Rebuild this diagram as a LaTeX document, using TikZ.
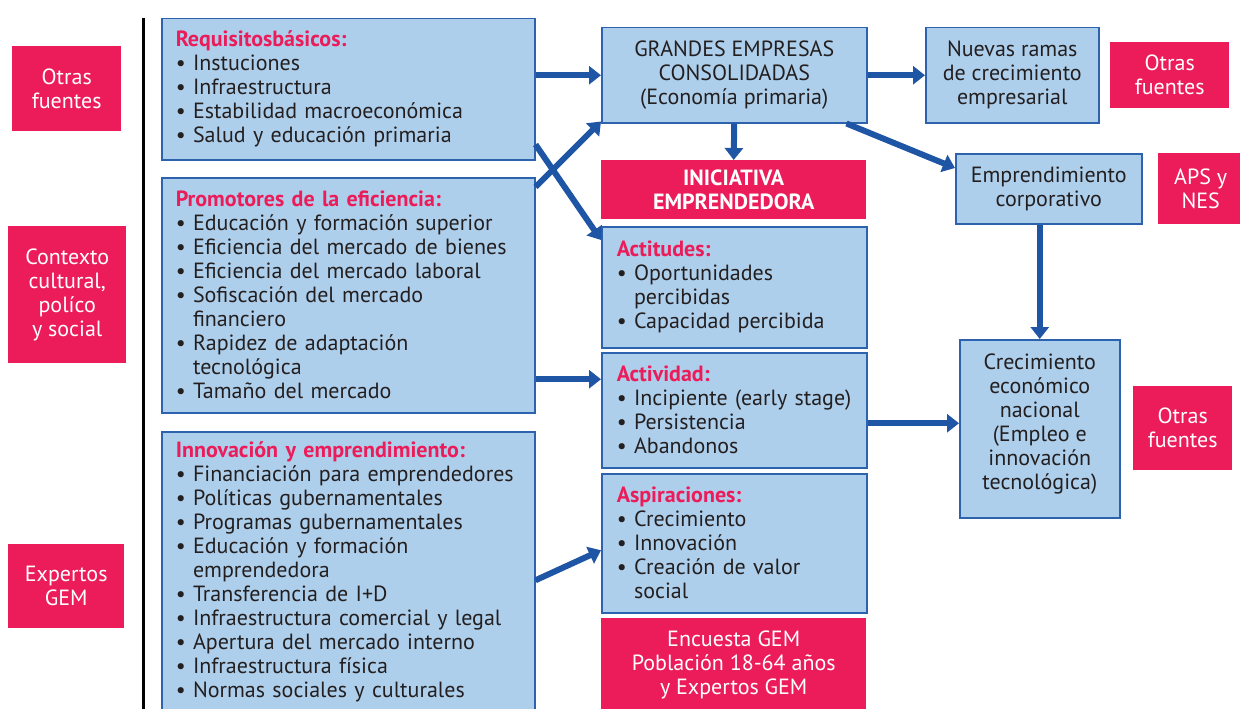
\documentclass[tikz,border=0pt]{standalone}
\usepackage{fontspec}
\setmainfont{PT Sans}
\usetikzlibrary{arrows.meta, calc}
\definecolor{RojoGEM}{HTML}{EC1C5A}
\definecolor{AzulCaja}{HTML}{AECFEB}
\definecolor{AzulBorde}{HTML}{2C62AE}
\definecolor{AzulFlecha}{HTML}{1F55A5}
\definecolor{TextoCaja}{HTML}{231F20}
\newcommand{\encabezado}[1]{{\bfseries\color{RojoGEM}#1}}
\newcommand{\sangria}{\phantom{•\ }}
\tikzset{
    caja/.style={
        draw=AzulBorde, line width=1.5pt, fill=AzulCaja, text=TextoCaja,
        anchor=north west, inner sep=0pt,
        font=\fontsize{22}{24}\selectfont
    },
    caja lista/.style={caja, align=left},
    caja centro/.style={caja, align=center},
    fuente/.style={
        fill=RojoGEM, text=white, anchor=north west, align=center,
        inner sep=0pt, font=\fontsize{22}{24}\selectfont
    },
    flecha/.style={
        draw=AzulFlecha, line width=6pt,
        -{Triangle[length=12pt, width=18pt]}
    }
}

\begin{document}
\begin{tikzpicture}[x=1pt, y=-1pt]

\clip (0,0) rectangle (1240,709);

% Linea negra que separa las fuentes
\coordinate (L1) at (143,18);
\coordinate (L2) at (143,712);
\draw[line width=3pt] (L1) -- (L2);

% Fuentes de la izquierda
\node[fuente, minimum width=109, minimum height=85] (otrasA) at (12,46) {Otras\\fuentes};
\node[fuente, minimum width=118, minimum height=137] (contexto) at (8,226) {Contexto\\cultural,\\polí{}co\\y social};
\node[fuente, minimum width=116, minimum height=84] (expertos) at (8,544) {Expertos\\GEM};

% Cajas de la primera columna
\node[caja lista, minimum width=373, minimum height=141, text width=345] (req) at (161,18) {%
\encabezado{Requisitosbásicos:}\\
• Instuciones\\
• Infraestructura\\
• Estabilidad macroeconómica\\
• Salud y educación primaria};

\node[caja lista, minimum width=373, minimum height=235, text width=345] (prom) at (161,177) {%
\encabezado{Promotores de la eficiencia:}\\
• Educación y formación superior\\
• Eficiencia del mercado de bienes\\
• Eficiencia del mercado laboral\\
• Sofiscación del mercado\\
\sangria financiero\\
• Rapidez de adaptación\\
\sangria tecnológica\\
• Tamaño del mercado};

\node[caja lista, minimum width=373, minimum height=281, text width=345] (inno) at (161,431) {%
\encabezado{Innovación y emprendimiento:}\\
• Financiación para emprendedores\\
• Políticas gubernamentales\\
• Programas gubernamentales\\
• Educación y formación\\
\sangria emprendedora\\
• Transferencia de I+D\\
• Infraestructura comercial y legal\\
• Apertura del mercado interno\\
• Infraestructura física\\
• Normas sociales y culturales};

% Cajas de la columna central
\node[caja centro, minimum width=265, minimum height=95] (grandes) at (601,27) {GRANDES EMPRESAS\\CONSOLIDADAS\\(Economía primaria)};
\node[fuente, minimum width=265, minimum height=59, font=\fontsize{22}{24}\selectfont\bfseries] (iniciativa) at (601,160) {INICIATIVA\\EMPRENDEDORA};

\node[caja lista, minimum width=265, minimum height=121, text width=235] (actitudes) at (601,226) {%
\encabezado{Actitudes:}\\
• Oportunidades\\
\sangria percibidas\\
• Capacidad percibida};

\node[caja lista, minimum width=265, minimum height=115, text width=235] (actividad) at (601,352) {%
\encabezado{Actividad:}\\
• Incipiente (early stage)\\
• Persistencia\\
• Abandonos};

\node[caja lista, minimum width=265, minimum height=139, text width=235] (aspira) at (601,473) {%
\encabezado{Aspiraciones:}\\
• Crecimiento\\
• Innovación\\
• Creación de valor\\
\sangria social};

\node[fuente, minimum width=265, minimum height=94] (encuesta) at (601,618) {Encuesta GEM\\Población 18-64 años\\y Expertos GEM};

% Cajas de la derecha
\node[caja centro, minimum width=173, minimum height=95] (nuevas) at (925,27) {Nuevas ramas\\de crecimiento\\empresarial};
\node[fuente, minimum width=119, minimum height=66] (otrasB) at (1110,42) {Otras\\fuentes};
\node[caja centro, minimum width=186, minimum height=70] (corporativo) at (955,153) {Emprendimiento\\corporativo};
\node[fuente, minimum width=85, minimum height=71] (aps) at (1158,153) {APS y\\NES};
\node[caja centro, minimum width=160, minimum height=178] (crecimiento) at (959,339) {Crecimiento\\económico\\nacional\\(Empleo e\\innovación\\tecnológica)\\[-10pt]};
\node[fuente, minimum width=99, minimum height=84] (otrasC) at (1133,386) {Otras\\fuentes};

% Flechas
\draw[flecha] (grandes.west -| req.east) -- (grandes.west);
\draw[flecha] ([yshift=16pt]req.south east) -- ([yshift=-14pt]actitudes.north west);
\draw[flecha] ([yshift=-10pt]prom.north east) -- ([yshift=2pt]grandes.south west);
\draw[flecha] (grandes.south) -- (iniciativa.north);
\draw[flecha] (grandes.east) -- (nuevas.west);
\draw[flecha] ([xshift=-21pt]grandes.south east) -- ([yshift=-15pt]corporativo.north west);
\draw[flecha] (crecimiento.north |- corporativo.south) -- (crecimiento.north);
\draw[flecha] ([yshift=31pt]actividad.west -| prom.east) -- ([yshift=31pt]actividad.west);
\draw[flecha] ([yshift=-13pt]actividad.east) -- ([yshift=-13pt]actividad.east -| crecimiento.west);
\draw[flecha] ([yshift=-8pt]inno.east) -- ([yshift=-7pt]aspira.west);

\end{tikzpicture}
\end{document}
